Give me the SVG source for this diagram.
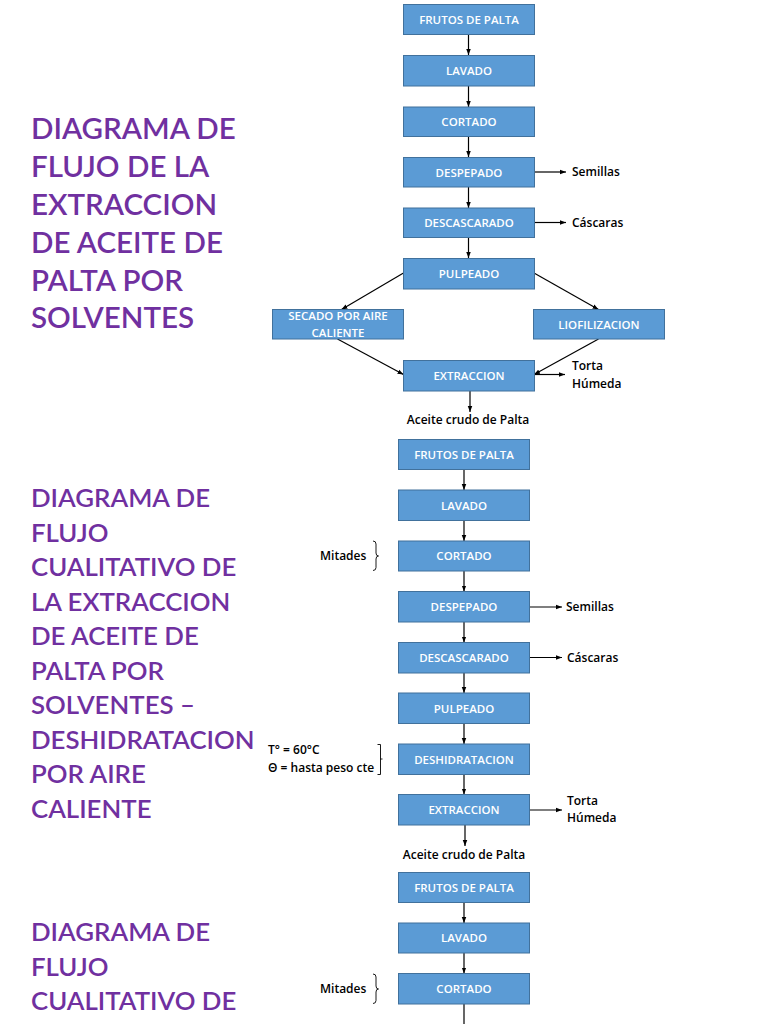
<svg xmlns="http://www.w3.org/2000/svg" width="768" height="1024" viewBox="0 0 768 1024">
<style>
.title{font-family:Lato,"Open Sans","Liberation Sans",sans-serif;font-weight:600;fill:#7030A0;}
.t1{font-size:29.5px;}
.t2{font-size:25.8px;}
.box rect{fill:#5B9BD5;stroke:#41719C;stroke-width:1;}
.box text{font-family:"Open Sans","Liberation Sans",sans-serif;font-size:11.5px;font-weight:600;fill:#fff;text-anchor:middle;}
.lbl{font-family:"Open Sans","Liberation Sans",sans-serif;font-size:12px;font-weight:600;fill:#000;}
.conn path{fill:none;stroke:#000;stroke-width:1.2;}
.brk{fill:none;stroke:#000;stroke-width:0.9;}
</style>
<defs>
<marker id="ah" viewBox="0 0 8 8" refX="8" refY="4" markerWidth="6" markerHeight="6" markerUnits="userSpaceOnUse" orient="auto">
<path d="M0,1 L8,4 L0,7 z" fill="#000"/>
</marker>
</defs>
<rect width="768" height="1024" fill="#fff"/>

<!-- Titles -->
<g id="title1" class="title t1">
<text x="31" y="139">DIAGRAMA DE</text>
<text x="31" y="177">FLUJO DE LA</text>
<text x="31" y="215">EXTRACCION</text>
<text x="31" y="253">DE ACEITE DE</text>
<text x="31" y="291">PALTA POR</text>
<text x="31" y="328">SOLVENTES</text>
</g>
<g id="title2" class="title t2">
<text x="31" y="507">DIAGRAMA DE</text>
<text x="31" y="541.5">FLUJO</text>
<text x="31" y="576">CUALITATIVO DE</text>
<text x="31" y="610.5">LA EXTRACCION</text>
<text x="31" y="645">DE ACEITE DE</text>
<text x="31" y="679.5">PALTA POR</text>
<text x="31" y="714">SOLVENTES –</text>
<text x="31" y="748.5">DESHIDRATACION</text>
<text x="31" y="783">POR AIRE</text>
<text x="31" y="817.5">CALIENTE</text>
</g>
<g id="title3" class="title t2">
<text x="31" y="941">DIAGRAMA DE</text>
<text x="31" y="975.5">FLUJO</text>
<text x="31" y="1010">CUALITATIVO DE</text>
</g>

<!-- Connectors -->
<g id="connectors" class="conn">
<!-- section 1 -->
<path d="M468.5,34 V55" marker-end="url(#ah)"/>
<path d="M468.5,86 V107" marker-end="url(#ah)"/>
<path d="M468.5,136 V157" marker-end="url(#ah)"/>
<path d="M468.5,187 V208" marker-end="url(#ah)"/>
<path d="M468.5,237 V258" marker-end="url(#ah)"/>
<path d="M534,172 H566" marker-end="url(#ah)"/>
<path d="M534,222.5 H566" marker-end="url(#ah)"/>
<path d="M403.5,273 L341.5,309.5" marker-end="url(#ah)"/>
<path d="M534,273 L598.5,309.5" marker-end="url(#ah)"/>
<path d="M337.5,339 L403.5,374.5" marker-end="url(#ah)"/>
<path d="M598.5,339 L534,374.5" marker-end="url(#ah)"/>
<path d="M534,374.5 H565" marker-end="url(#ah)"/>
<path d="M470,391 V412" marker-end="url(#ah)"/>
<!-- section 2 -->
<path d="M464,469.5 V490" marker-end="url(#ah)"/>
<path d="M464,520.5 V541" marker-end="url(#ah)"/>
<path d="M464,571 V591.5" marker-end="url(#ah)"/>
<path d="M464,622 V642.5" marker-end="url(#ah)"/>
<path d="M464,673 V693" marker-end="url(#ah)"/>
<path d="M464,723.5 V744" marker-end="url(#ah)"/>
<path d="M464,774.5 V794.5" marker-end="url(#ah)"/>
<path d="M529,607 H562" marker-end="url(#ah)"/>
<path d="M529,657.5 H562" marker-end="url(#ah)"/>
<path d="M529,810 H562" marker-end="url(#ah)"/>
<path d="M465,825 V846" marker-end="url(#ah)"/>
<!-- section 3 -->
<path d="M464,902.5 V923" marker-end="url(#ah)"/>
<path d="M464,953 V973.5" marker-end="url(#ah)"/>
<path d="M464,1004 V1024"/>
</g>

<!-- Section 1 nodes -->
<g id="s1-frutos" class="box"><rect x="403.5" y="4.5" width="131" height="30"/><text x="469" y="23.5">FRUTOS DE PALTA</text></g>
<g id="s1-lavado" class="box"><rect x="403.5" y="55.5" width="131" height="30.5"/><text x="469" y="75">LAVADO</text></g>
<g id="s1-cortado" class="box"><rect x="403.5" y="107" width="131" height="29.5"/><text x="469" y="126">CORTADO</text></g>
<g id="s1-despepado" class="box"><rect x="403.5" y="157.5" width="131" height="29.5"/><text x="469" y="176.5">DESPEPADO</text></g>
<g id="s1-descascarado" class="box"><rect x="403.5" y="208" width="131" height="29.5"/><text x="469" y="227">DESCASCARADO</text></g>
<g id="s1-pulpeado" class="box"><rect x="403.5" y="258.5" width="131" height="30.5"/><text x="469" y="278">PULPEADO</text></g>
<g id="s1-secado" class="box"><rect x="272.5" y="309.5" width="131" height="29.5"/><text x="338" y="320">SECADO POR AIRE</text><text x="338" y="336.5">CALIENTE</text></g>
<g id="s1-liofilizacion" class="box"><rect x="533.5" y="309.5" width="131" height="29.5"/><text x="599" y="328.5">LIOFILIZACION</text></g>
<g id="s1-extraccion" class="box"><rect x="403.5" y="360.5" width="131" height="30.5"/><text x="469" y="380">EXTRACCION</text></g>

<g id="s1-labels">
<text class="lbl" x="572" y="176">Semillas</text>
<text class="lbl" x="572" y="226.5">Cáscaras</text>
<text class="lbl" x="572" y="370">Torta</text>
<text class="lbl" x="572" y="388">Húmeda</text>
<text class="lbl" x="468" y="423.5" text-anchor="middle">Aceite crudo de Palta</text>
</g>

<!-- Section 2 nodes -->
<g id="s2-frutos" class="box"><rect x="398.5" y="439.5" width="131" height="30"/><text x="464" y="458.5">FRUTOS DE PALTA</text></g>
<g id="s2-lavado" class="box"><rect x="398.5" y="490" width="131" height="30.5"/><text x="464" y="509.5">LAVADO</text></g>
<g id="s2-cortado" class="box"><rect x="398.5" y="541" width="131" height="30"/><text x="464" y="560">CORTADO</text></g>
<g id="s2-despepado" class="box"><rect x="398.5" y="591.5" width="131" height="30.5"/><text x="464" y="611">DESPEPADO</text></g>
<g id="s2-descascarado" class="box"><rect x="398.5" y="642.5" width="131" height="30.5"/><text x="464" y="662">DESCASCARADO</text></g>
<g id="s2-pulpeado" class="box"><rect x="398.5" y="693" width="131" height="30.5"/><text x="464" y="712.5">PULPEADO</text></g>
<g id="s2-deshidratacion" class="box"><rect x="398.5" y="744" width="131" height="30.5"/><text x="464" y="763.5">DESHIDRATACION</text></g>
<g id="s2-extraccion" class="box"><rect x="398.5" y="794.5" width="131" height="30.5"/><text x="464" y="814">EXTRACCION</text></g>

<g id="s2-labels">
<text class="lbl" x="320" y="559.5">Mitades</text>
<path class="brk" d="M373,541 Q376,541 376,544 L376,553 Q376,556 378.5,556 Q376,556 376,559 L376,567.5 Q376,570.5 373,570.5"/>
<text class="lbl" x="566" y="611">Semillas</text>
<text class="lbl" x="567" y="661.5">Cáscaras</text>
<text class="lbl" x="268" y="753.5">T° = 60°C</text>
<text class="lbl" x="268" y="771.5">Θ = hasta peso cte</text>
<path class="brk" d="M377.5,744.5 H380.5 V774.5 H377.5 M380.5,759 H382.5"/>
<text class="lbl" x="567" y="805">Torta</text>
<text class="lbl" x="567" y="822">Húmeda</text>
<text class="lbl" x="464" y="858.5" text-anchor="middle">Aceite crudo de Palta</text>
</g>

<!-- Section 3 nodes -->
<g id="s3-frutos" class="box"><rect x="398.5" y="872.5" width="131" height="30"/><text x="464" y="891.5">FRUTOS DE PALTA</text></g>
<g id="s3-lavado" class="box"><rect x="398.5" y="923" width="131" height="30"/><text x="464" y="942">LAVADO</text></g>
<g id="s3-cortado" class="box"><rect x="398.5" y="973.5" width="131" height="30.5"/><text x="464" y="993">CORTADO</text></g>
<g id="s3-labels">
<text class="lbl" x="320" y="993">Mitades</text>
<path class="brk" d="M373,974 Q376,974 376,977 L376,986 Q376,989 378.5,989 Q376,989 376,992 L376,1000.5 Q376,1003.5 373,1003.5"/>
</g>
</svg>
